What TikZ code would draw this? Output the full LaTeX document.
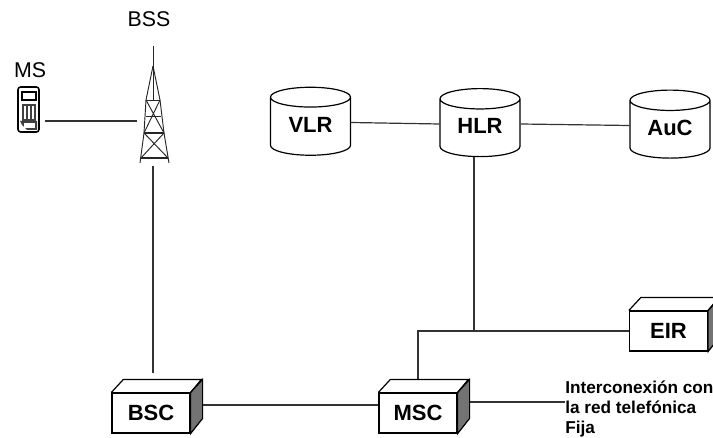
\documentclass[tikz,border=0pt]{standalone}
\usepackage{fontspec}
\setmainfont{Liberation Sans}
\usetikzlibrary{shapes.geometric}
\newcommand{\storetext}[1]{\raisebox{3pt}{#1}}
\tikzset{
  link/.style={line width=0.9pt, black!80},
  datastore/.style={draw, line width=0.9pt, cylinder, shape border rotate=90, shape aspect=0.45,
    minimum width=60pt, minimum height=51pt, inner sep=0pt, font=\fontsize{16.5}{18}\selectfont\bfseries},
  unitbox/.style={draw, line width=0.9pt, fill=white, minimum width=58.5pt, minimum height=30pt,
    inner sep=0pt, font=\fontsize{16.5}{18}\selectfont\bfseries},
  plain/.style={inner sep=0pt, font=\fontsize{16}{18}\selectfont},
  hidden/.style={inner sep=0pt, minimum width=24pt, minimum height=90pt},
  mast/.style={line width=0.7pt, black!85}
}
\begin{document}
\begin{tikzpicture}[x=0.75pt, y=-0.75pt]
        \useasboundingbox (0,0) rectangle (713,438);

        % databases
        \node[datastore] (vlr) at (310.5,126.5) {\storetext{VLR}};
        \node[datastore] (hlr) at (480,128) {\storetext{HLR}};
        \node[datastore] (auc) at (670,129.5) {\storetext{AuC}};

        % boxes
        \node[unitbox] (bsc) at (151,413) {BSC};
        \node[unitbox] (msc) at (418,413) {MSC};
        \node[unitbox] (eir) at (668.5,331) {EIR};
        \foreach \unit in {bsc,msc,eir}
          \draw[line width=0.9pt, fill=black!55] (\unit.north east) -- ++(12,-13) -- ++(0,39) -- (\unit.south east) -- cycle;
        \foreach \unit in {bsc,msc,eir}
          \draw[line width=0.9pt] (\unit.north west) -- ++(12,-13) -- ++(78,0) -- (\unit.north east);

        % phone
        \node[draw, line width=1.2pt, rounded corners=2pt, minimum width=15.75pt, minimum height=33.75pt, inner sep=0pt, outer xsep=4.5pt] (ms) at (28.5,109.5) {};
        \draw[line width=0.8pt] (22,92) rectangle (36,100);
        \fill[black!75] (22,104) rectangle (36,121);
        \foreach \col in {25,29,33}
          \fill[white] (\col-0.8,106) rectangle (\col+0.8,119);
        \fill[black!75] (20,121) -- (37,121) -- (37,130) -- (27,130) -- (22,125) -- cycle;
        \fill[white] (24,123) rectangle (35,128);

        % tower
        \node[hidden] (tower) at (153,105.5) {};
        \draw[mast] (153,46) -- (153,100);
        \draw[mast] (153,66) -- (146,100) -- (144,133) -- (140,163);
        \draw[mast] (153,66) -- (160,100) -- (164,133) -- (169,163);
        \draw[mast] (146,100) -- (160,100);
        \draw[mast, line width=1pt] (144,133) -- (164,133);
        \draw[mast, line width=1pt] (141,158) -- (168,158);
        \draw[mast] (146,100) -- (164,133) (160,100) -- (144,133);
        \draw[mast] (144,133) -- (168,158) (164,133) -- (141,158);
        \draw[mast] (146,116) -- (161,116);

        % labels
        \node[plain] (bsslabel) at (149,19.5) {BSS};
        \node[plain] (mslabel) at (30,70.5) {MS};
        \node[inner sep=0pt, anchor=west, align=left, font=\fontsize{12.9}{15}\selectfont\bfseries] (fija) at (565,408.5) {Interconexión con\\la red telefónica\\Fija};

        % links
        \coordinate (junction) at (474,331);
        \coordinate (mscout) at ([shift={(12,-11)}]msc.east);
        \draw[link] ([shift={(0,11.5)}]ms.east) -- ([shift={(0,15.5)}]tower.west);
        \draw[link] (tower.south) -- ([shift={(2,-19)}]bsc.north);
        \draw[link] ([yshift=3pt]vlr.east) -- ([yshift=3pt]hlr.west);
        \draw[link] ([yshift=3pt]hlr.east) -- ([yshift=3pt]auc.west);
        \draw[link] (junction |- hlr.south) -- (junction);
        \draw[link] (eir.west) -| ([shift={(0,-13)}]msc.north);
        \draw[link] ([shift={(12,-8)}]bsc.east) -- ([shift={(0,-8)}]msc.west);
        \draw[link] (mscout) -- (mscout -| fija.west);
\end{tikzpicture}
\end{document}
